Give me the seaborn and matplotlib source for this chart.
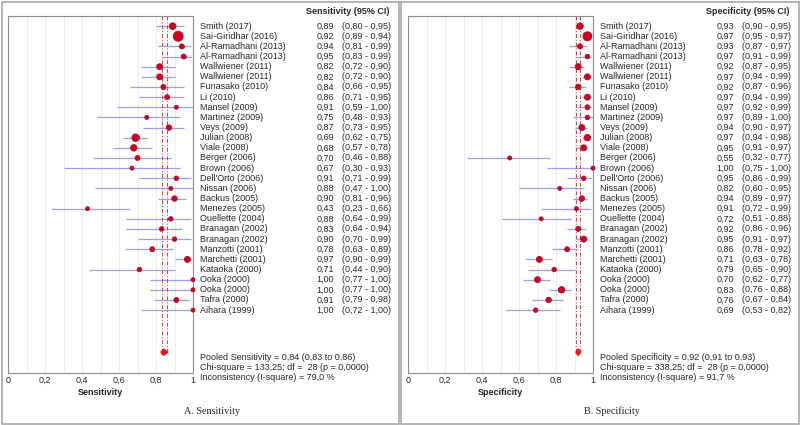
import numpy as np
import pandas as pd
import matplotlib
matplotlib.use("Agg")
import matplotlib.pyplot as plt
import matplotlib.transforms as mtrans
from matplotlib.patches import Rectangle, Polygon
import seaborn as sns

studies = ["Smith (2017)", "Sai-Giridhar (2016)", "Al-Ramadhani (2013)", "Al-Ramadhani (2013)",
           "Wallwiener (2011)", "Wallwiener (2011)", "Funasako (2010)", "Li (2010)",
           "Mansel (2009)", "Martinez (2009)", "Veys (2009)", "Julian (2008)", "Viale (2008)",
           "Berger (2006)", "Brown (2006)", "Dell'Orto (2006)", "Nissan (2006)", "Backus (2005)",
           "Menezes (2005)", "Ouellette (2004)", "Branagan (2002)", "Branagan (2002)",
           "Manzotti (2001)", "Marchetti (2001)", "Kataoka (2000)", "Ooka (2000)", "Ooka (2000)",
           "Tafra (2000)", "Aihara (1999)"]

sens = [0.89, 0.92, 0.94, 0.95, 0.82, 0.82, 0.84, 0.86, 0.91, 0.75, 0.87, 0.69, 0.68, 0.70, 0.67,
        0.91, 0.88, 0.90, 0.43, 0.88, 0.83, 0.90, 0.78, 0.97, 0.71, 1.00, 1.00, 0.91, 1.00]
sens_lo = [0.80, 0.89, 0.81, 0.83, 0.72, 0.72, 0.66, 0.71, 0.59, 0.48, 0.73, 0.62, 0.57, 0.46, 0.30,
           0.71, 0.47, 0.81, 0.23, 0.64, 0.64, 0.70, 0.63, 0.90, 0.44, 0.77, 0.77, 0.79, 0.72]
sens_hi = [0.95, 0.94, 0.99, 0.99, 0.90, 0.90, 0.95, 0.95, 1.00, 0.93, 0.95, 0.75, 0.78, 0.88, 0.93,
           0.99, 1.00, 0.96, 0.66, 0.99, 0.94, 0.99, 0.89, 0.99, 0.90, 1.00, 1.00, 0.98, 1.00]
# relative study weight (marker area)
sens_weight = [44, 100, 25, 25, 36, 36, 25, 25, 16, 16, 30, 56, 42, 25, 16, 20, 16, 30, 16, 20,
               20, 20, 25, 36, 20, 16, 16, 25, 16]

spec = [0.93, 0.97, 0.93, 0.97, 0.92, 0.97, 0.92, 0.97, 0.97, 0.97, 0.94, 0.97, 0.95, 0.55, 1.00,
        0.95, 0.82, 0.94, 0.91, 0.72, 0.92, 0.95, 0.86, 0.71, 0.79, 0.70, 0.83, 0.76, 0.69]
spec_lo = [0.90, 0.95, 0.87, 0.91, 0.87, 0.94, 0.87, 0.94, 0.92, 0.89, 0.90, 0.94, 0.91, 0.32, 0.75,
           0.86, 0.60, 0.89, 0.72, 0.51, 0.86, 0.91, 0.78, 0.63, 0.65, 0.62, 0.76, 0.67, 0.53]
spec_hi = [0.95, 0.97, 0.97, 0.99, 0.95, 0.99, 0.96, 0.99, 0.99, 1.00, 0.97, 0.98, 0.97, 0.77, 1.00,
           0.99, 0.95, 0.97, 0.99, 0.88, 0.96, 0.97, 0.92, 0.78, 0.90, 0.77, 0.88, 0.84, 0.82]
spec_weight = [42, 81, 25, 20, 36, 36, 30, 36, 25, 20, 36, 42, 36, 16, 16, 20, 16, 30, 16, 16,
               25, 36, 25, 36, 20, 36, 42, 30, 20]

pooled_sens = (0.84, 0.83, 0.86)
pooled_spec = (0.92, 0.91, 0.93)
stats_sens = ["Pooled Sensitivity = 0,84 (0,83 to 0,86)",
              "Chi-square = 133,25; df =  28 (p = 0,0000)",
              "Inconsistency (I-square) = 79,0 %"]
stats_spec = ["Pooled Specificity = 0,92 (0,91 to 0,93)",
              "Chi-square = 338,25; df =  28 (p = 0,0000)",
              "Inconsistency (I-square) = 91,7 %"]

sns.set_style("white")
plt.rcParams['font.family'] = ['Liberation Sans', 'DejaVu Sans']

W, H = 800, 425
fig = plt.figure(figsize=(8, 4.25), dpi=100)

FS = 6.5
POOL_ROW = 33.15


def fmtc(v):
    return ("%.2f" % v).replace('.', ',')


def forestPanel(x0, est, lo, hi, weight, pooled, stats, label, header, caption):
    # panel frame
    fig.add_artist(Rectangle(((x0 + 1.5) / W, 1.5 / H), 397 / W, 421.5 / H,
                             transform=fig.transFigure, fill=False,
                             edgecolor='#a6a6a6', linewidth=1.2))
    ax = fig.add_axes([(x0 + 8) / W, (H - 373) / H, 185 / W, 357 / H])
    rows = np.arange(1, len(est) + 1)
    df = pd.DataFrame({'est': est, 'lo': lo, 'hi': hi, 'w': weight, 'row': rows})

    ax.set_xlim(0, 1)
    ax.set_ylim(35.2, 0)
    ax.set_xticks(np.arange(0, 1.01, 0.2))
    ax.set_xticks(np.arange(0.1, 1.0, 0.2), minor=True)
    ax.set_xticklabels([("%g" % t).replace('.', ',') for t in np.arange(0, 1.01, 0.2)])
    ax.set_yticks([])
    ax.grid(True, axis='x', which='both', color='#ececec', linewidth=0.7)
    ax.set_axisbelow(True)
    ax.tick_params(axis='x', which='both', length=0, pad=2, labelsize=FS)
    for s in ax.spines.values():
        s.set_color('#8c8c8c')
        s.set_linewidth(0.8)

    ax.hlines(df['row'], df['lo'], df['hi'], color='#9c9cf0', linewidth=0.9, zorder=2)
    ax.vlines(pooled[1:], 0, POOL_ROW, color='#ff3030', linestyle=(0, (4, 2, 1, 2)),
              linewidth=0.7, zorder=2)

    wmin, wmax = min(weight), max(weight)
    k = (0.72 * 10) ** 2 / 100.0
    sns.scatterplot(data=df, x='est', y='row', size='w', sizes=(k * wmin, k * wmax),
                    size_norm=(wmin, wmax), color='#d0001c', edgecolor='#a0102c',
                    linewidth=0.6, legend=False, ax=ax, zorder=3, clip_on=False)

    pe, pl, ph = pooled
    ax.add_patch(Polygon([(pl, POOL_ROW), (pe, POOL_ROW - 0.26), (ph, POOL_ROW), (pe, POOL_ROW + 0.26)],
                         closed=True, facecolor='#ff1010', edgecolor='#ff1010',
                         linewidth=1.6, joinstyle='round', zorder=4))

    ax.set_xlabel(label, fontsize=FS, fontweight='bold', labelpad=2)
    ax.set_ylabel('')

    tr = mtrans.blended_transform_factory(fig.transFigure, ax.transData)
    for i, name in enumerate(studies):
        r = rows[i]
        ax.text((x0 + 200) / W, r, name, transform=tr, fontsize=FS, va='center', ha='left')
        ax.text((x0 + 334) / W, r, fmtc(est[i]), transform=tr, fontsize=FS, va='center', ha='right')
        ax.text((x0 + 342) / W, r, "(%s - %s)" % (fmtc(lo[i]), fmtc(hi[i])), transform=tr,
                fontsize=FS, va='center', ha='left')
    fig.text((x0 + 389) / W, (H - 12) / H, header, fontsize=FS, fontweight='bold',
             ha='right', va='center')
    for j, line in enumerate(stats):
        fig.text((x0 + 200) / W, (H - 357 - 10 * j) / H, line, fontsize=FS, ha='left', va='center')
    fig.text((x0 + 212) / W, (H - 411) / H, caption, fontsize=7.3, ha='center', va='center',
             family=['Liberation Serif', 'DejaVu Serif'])
    return ax


forestPanel(0, sens, sens_lo, sens_hi, sens_weight, pooled_sens, stats_sens,
            "Sensitivity", "Sensitivity (95% CI)", "A. Sensitivity")
forestPanel(400, spec, spec_lo, spec_hi, spec_weight, pooled_spec, stats_spec,
            "Specificity", "Specificity (95% CI)", "B. Specificity")

fig.savefig("out.png", dpi=100)
plt.close(fig)
